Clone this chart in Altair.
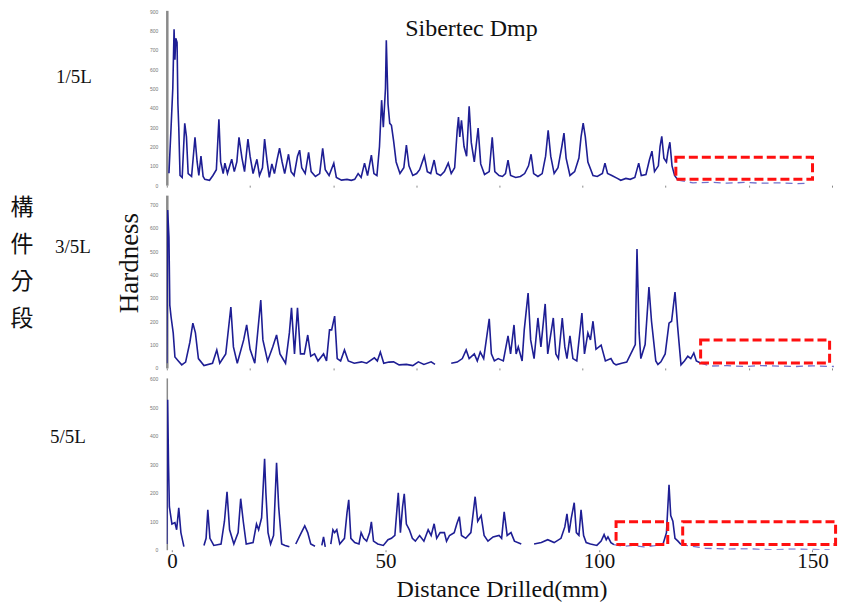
import altair as alt
import pandas as pd

# ---------------- data (mm, hardness) ----------------
TOP_SEGMENTS = [[
    (-0.7, 62), (-0.2, 300), (0.2, 500), (0.5, 807), (0.7, 650), (0.9, 760), (1.2, 739),
    (1.4, 420), (1.6, 300), (1.9, 50), (2.4, 40), (3.0, 320), (3.4, 250), (3.8, 60),
    (4.6, 45), (5.4, 248), (5.9, 120), (6.3, 50), (6.8, 150), (7.3, 45), (7.7, 30),
    (8.8, 25), (9.6, 50), (10.4, 80), (11.0, 341), (11.4, 120), (12.0, 60), (12.4, 114),
    (13.0, 60), (14.0, 134), (14.6, 70), (15.2, 120), (15.7, 248), (16.4, 140), (17.0, 70),
    (17.8, 238), (18.3, 150), (19.0, 60), (19.9, 134), (20.5, 50), (21.2, 90), (21.7, 238),
    (22.3, 120), (22.8, 40), (23.4, 110), (24.0, 60), (24.6, 130), (25.2, 191), (25.8, 120),
    (26.4, 60), (27.3, 160), (27.9, 70), (28.6, 50), (29.4, 150), (29.9, 181), (30.4, 90),
    (31.2, 60), (32.0, 170), (32.6, 70), (33.6, 45), (34.6, 60), (35.3, 191), (35.9, 80),
    (36.8, 50), (37.9, 114), (38.5, 40), (39.7, 26), (41.0, 30), (42.0, 25), (42.8, 30),
    (43.6, 60), (44.3, 40), (45.1, 114), (45.8, 50), (46.7, 155), (47.3, 60), (48.0, 50),
    (48.6, 200), (49.1, 440), (49.5, 300), (50.0, 500), (50.2, 750), (50.6, 420), (51.0, 320),
    (51.4, 310), (51.9, 230), (52.5, 120), (53.4, 60), (54.3, 90), (54.9, 207), (55.5, 100),
    (56.4, 50), (57.3, 60), (58.0, 80), (59.1, 150), (59.8, 70), (60.6, 60), (61.4, 130),
    (62.0, 60), (62.9, 50), (63.8, 70), (64.7, 114), (65.4, 60), (66.2, 90), (66.8, 284),
    (67.1, 352), (67.4, 250), (67.8, 336), (68.4, 200), (69.0, 150), (69.6, 408), (70.1, 220),
    (70.8, 120), (71.7, 295), (72.3, 110), (73.2, 55), (74.3, 70), (75.0, 248), (75.6, 70),
    (76.6, 50), (77.4, 45), (78.1, 60), (78.7, 129), (79.3, 50), (80.5, 40), (81.6, 45),
    (82.6, 60), (83.5, 100), (84.1, 160), (84.7, 60), (85.7, 45), (86.7, 60), (87.5, 150),
    (88.1, 284), (88.7, 150), (89.5, 60), (90.4, 90), (91.3, 200), (91.8, 269), (92.3, 140),
    (93.2, 50), (94.3, 70), (95.3, 140), (95.8, 250), (96.3, 321), (96.8, 250), (97.4, 120),
    (98.6, 50), (99.6, 45), (100.8, 60), (101.4, 114), (102.0, 60), (103.0, 50), (104.3, 35),
    (105.1, 25), (106.3, 35), (107.3, 30), (108.4, 40), (109.3, 114), (109.9, 50), (111.0, 55),
    (111.8, 130), (112.4, 176), (113.0, 70), (113.9, 100), (114.3, 200), (114.7, 253),
    (115.2, 140), (115.8, 120), (116.2, 180), (116.6, 222), (117.1, 100), (117.7, 50), (118.5, 26),
]]
TOP_FAINT = [[(118.5, 26), (122.0, 12), (126.0, 15), (130.0, 10), (134.0, 14), (138.0, 10),
              (142.0, 12), (146.0, 8), (148.8, 10)]]

MID_SEGMENTS = [[
    (-1.2, 20), (-1.0, 676), (-0.7, 560), (-0.5, 269), (-0.2, 218), (0.3, 150), (0.7, 47),
    (1.5, 30), (2.3, 13), (3.2, 25), (4.2, 110), (4.9, 192), (5.5, 150), (6.2, 40), (7.5, 10),
    (9.5, 20), (10.5, 77), (11.2, 20), (12.6, 60), (13.8, 261), (14.4, 90), (15.3, 20),
    (16.8, 120), (17.5, 184), (18.3, 80), (19.4, 20), (20.8, 291), (21.3, 120), (22.4, 30),
    (23.6, 90), (24.5, 141), (25.3, 60), (26.6, 20), (27.5, 150), (28.0, 257), (28.7, 60),
    (29.4, 257), (30.1, 60), (31.0, 60), (31.8, 141), (32.5, 50), (33.4, 60), (34.2, 30),
    (35.5, 60), (36.2, 30), (36.9, 163), (37.4, 163), (38.1, 222), (38.7, 40), (39.5, 30),
    (40.4, 77), (41.3, 30), (42.7, 20), (44.4, 26), (45.6, 20), (47.4, 43), (48.1, 30),
    (48.8, 68), (49.6, 20), (50.8, 25), (51.9, 26), (53.2, 13), (54.9, 15), (56.4, 10),
    (57.7, 26), (59.0, 15), (60.7, 26), (61.6, 15),
], [
    (65.4, 20), (66.8, 25), (68.0, 40), (68.9, 77), (69.6, 40), (70.8, 60), (71.5, 30),
    (72.2, 68), (73.0, 40), (74.3, 210), (74.8, 60), (75.5, 30), (76.4, 40), (77.6, 30),
    (78.7, 137), (79.3, 60), (80.1, 184), (80.6, 60), (81.1, 90), (82.0, 30), (82.5, 163),
    (83.4, 321), (84.0, 120), (84.8, 40), (85.7, 214), (86.4, 90), (87.4, 274), (88.0, 60),
    (89.3, 214), (89.9, 60), (90.5, 40), (91.4, 214), (92.0, 90), (92.5, 40), (93.2, 137),
    (93.9, 40), (94.8, 30), (96.0, 235), (96.6, 60), (97.4, 150), (98.0, 120), (98.6, 200),
    (99.3, 80), (100.5, 98), (101.5, 30), (102.8, 40), (103.4, 20), (104.0, 13), (105.3, 20),
    (106.5, 25), (107.9, 77), (108.5, 100), (108.9, 509), (109.4, 150), (109.8, 40),
    (110.8, 100), (111.7, 346), (112.3, 200), (113.3, 30), (113.8, 15), (114.5, 26),
    (115.5, 60), (116.4, 192), (117.0, 200), (117.8, 325), (118.4, 180), (119.2, 13),
    (120.0, 30), (120.8, 50), (121.5, 40), (122.2, 64), (122.8, 30), (123.8, 21),
]]
MID_FAINT = [[(123.8, 21), (126.0, 8), (130.0, 10), (134.0, 6), (138.0, 10), (142.0, 8),
              (146.0, 6), (150.0, 9), (155.0, 6)]]

BOT_SEGMENTS = [
    [(-1.2, 20), (-1.0, 526), (-0.8, 300), (-0.6, 151), (0.0, 90), (0.7, 95), (1.1, 70),
     (1.6, 147), (2.1, 60), (2.8, 11)],
    [(7.5, 15), (8.0, 40), (8.4, 140), (8.9, 40), (9.8, 15), (11.5, 20), (12.3, 100),
     (12.9, 203), (13.5, 70), (14.5, 20), (15.5, 60), (16.1, 179), (16.7, 100), (17.4, 20),
     (19.0, 25), (19.8, 90), (20.3, 70), (21.0, 112), (21.7, 319), (22.0, 200), (22.5, 60),
     (23.1, 20), (23.8, 50), (24.5, 305), (25.0, 150), (25.7, 20), (26.5, 15), (27.5, 10)],
    [(29.0, 20), (30.3, 60), (31.1, 84), (31.8, 60), (32.5, 20), (33.5, 12)],
    [(35.1, 15), (35.5, 45), (35.9, 10)],
    [(37.2, 20), (37.7, 70), (38.1, 60), (38.6, 70), (39.3, 20), (40.4, 40), (41.0, 130),
     (41.4, 175), (41.9, 40), (42.8, 25), (43.8, 20), (44.3, 60), (44.9, 40), (45.6, 30),
     (46.3, 60), (46.7, 98), (47.2, 30), (48.2, 20), (49.5, 15), (50.6, 35), (51.4, 40),
     (52.2, 50), (53.0, 200), (53.5, 60), (54.0, 150), (54.4, 196), (54.9, 90), (55.6, 70),
     (56.3, 40), (57.0, 30), (58.0, 50), (59.0, 30), (60.0, 70), (60.7, 50), (61.4, 91),
     (62.0, 40), (62.8, 60), (63.8, 60), (64.3, 30), (65.0, 50), (66.1, 60), (66.7, 90),
     (67.3, 116), (67.8, 50), (68.8, 40), (70.0, 60), (71.0, 186), (71.6, 100), (72.4, 120),
     (73.1, 50), (74.0, 30), (75.2, 45), (76.6, 50), (77.2, 40), (77.8, 133), (78.5, 50),
     (79.4, 60), (80.2, 30), (81.8, 20)],
    [(84.8, 20), (86.5, 25), (88.0, 35), (89.5, 25), (91.1, 40), (92.0, 80), (92.5, 126),
     (93.0, 60), (93.5, 110), (94.2, 165), (94.7, 60), (95.3, 50), (95.8, 140), (96.4, 50),
     (97.0, 25), (98.0, 20), (99.5, 15), (100.5, 30), (101.2, 53), (101.7, 35), (102.1, 45),
     (102.8, 25), (103.5, 18)],
    [(115.0, 20), (115.8, 60), (116.4, 228), (116.8, 120), (117.3, 100), (117.8, 40),
     (118.5, 30), (119.2, 18)],
]
BOT_FAINT = [
    [(103.5, 18), (105.5, 12), (108.0, 15), (110.5, 10), (113.0, 14), (115.0, 20)],
    [(119.2, 18), (125.0, 5), (130.0, 2), (135.0, 3), (140.0, 0), (145.0, 2), (150.0, 1), (154.0, 0)],
]

# dashed red highlight boxes: (x1, x2, y1, y2)
TOP_BOXES = [(118.0, 150.0, 31, 145)]
MID_BOXES = [(123.8, 154.0, 21, 120)]
BOT_BOXES = [(104.0, 116.1, 18, 98), (119.6, 155.4, 18, 98)]

TOP_YTICKS = [0, 100, 200, 300, 400, 500, 600, 700, 800, 900]
MID_YTICKS = [0, 100, 200, 300, 400, 500, 600, 700]
BOT_YTICKS = [0, 100, 200, 300, 400, 500, 600]
X_LABELS = [0, 50, 100, 150]
X_DOTS = [-1.2, 18.3, 37.8, 57.2, 76.7, 96.2, 115.6, 135.1, 154.5]

SEGMENT_LABELS = ["1/5L", "3/5L", "5/5L"]
SIDE_TEXT = "構\n件\n分\n段"
TITLE = "Sibertec Dmp"
Y_TITLE = "Hardness"
X_TITLE = "Distance Drilled(mm)"

NAVY = "#1e1e94"
FAINT = "#7070cc"
SERIF = "Liberation Serif"
W = 670


def frame(segments):
    rows = []
    for s, seg in enumerate(segments):
        for i, (x, y) in enumerate(seg):
            rows.append({"mm": x, "val": y, "seg": s, "idx": i})
    return pd.DataFrame(rows)


def box_frame(boxes):
    return pd.DataFrame([{"x1": a, "x2": b, "y1": c, "y2": d} for a, b, c, d in boxes])


def panel(segs, faint, boxes, ydom, yticks, xaxis, domain_width=2.5):
    xs = alt.Scale(domain=[-1.2, 155.5], nice=False, zero=False)
    ys = alt.Scale(domain=ydom, nice=False, zero=False)
    yaxis = alt.Axis(values=yticks, labelFontSize=5, labelColor="#777", ticks=False,
                     labelOverlap=False, domainColor="#8a8a8a", domainWidth=domain_width,
                     labelPadding=9, title=None, grid=False)
    solid = alt.Chart(frame(segs)).mark_line(color=NAVY, strokeWidth=1.6, clip=True).encode(
        x=alt.X("mm:Q", scale=xs, axis=xaxis),
        y=alt.Y("val:Q", scale=ys, axis=yaxis),
        detail="seg:N",
        order="idx:Q",
    )
    light = alt.Chart(frame(faint)).mark_line(color=FAINT, strokeWidth=1.3, strokeDash=[7, 5],
                                              clip=True).encode(
        x=alt.X("mm:Q", scale=xs, axis=xaxis),
        y=alt.Y("val:Q", scale=ys, axis=yaxis),
        detail="seg:N",
        order="idx:Q",
    )
    rects = alt.Chart(box_frame(boxes)).mark_rect(
        fillOpacity=0, stroke="#ff1010", strokeWidth=3, strokeDash=[9, 4]
    ).encode(x=alt.X("x1:Q", scale=xs, axis=xaxis), x2="x2:Q",
             y=alt.Y("y1:Q", scale=ys, axis=yaxis), y2="y2:Q")
    return [solid, light, rects]


dot_axis = alt.Axis(values=X_DOTS, labels=False, domain=False, tickSize=2, tickColor="#888",
                    title=None, grid=False)
bottom_axis = alt.Axis(values=X_LABELS, labelFontSize=21, labelFont=SERIF, labelColor="#111",
                       labelFlush=False, domain=False, tickSize=2, tickColor="#888",
                       labelPadding=-1, title=X_TITLE, titleFont=SERIF, titleFontSize=24,
                       titleFontWeight="normal", titleColor="#111", titlePadding=6, grid=False)


def text(t, x, y, size, **kw):
    return alt.Chart(pd.DataFrame({"t": [t]})).mark_text(
        font=kw.pop("font", SERIF), fontSize=size, color="#111", **kw
    ).encode(x=alt.value(x), y=alt.value(y), text="t:N")


top = alt.layer(
    *panel(TOP_SEGMENTS, TOP_FAINT, TOP_BOXES, [0, 905], TOP_YTICKS, dot_axis),
    text(TITLE, 305, 19, 24, align="center", baseline="middle"),
    text(SEGMENT_LABELS[0], -93, 67, 19, align="center", baseline="middle"),
).properties(width=W, height=175)

mid = alt.layer(
    *panel(MID_SEGMENTS, MID_FAINT, MID_BOXES, [0, 740], MID_YTICKS, dot_axis),
    text(SEGMENT_LABELS[1], -94, 52, 19, align="center", baseline="middle"),
    text(Y_TITLE, -37, 68, 27, align="center", baseline="middle", angle=270),
    text(SIDE_TEXT, -145, 2, 23, align="center", baseline="top", lineBreak="\n",
         lineHeight=37, font="Noto Sans CJK TC"),
).properties(width=W, height=173)

bot = alt.layer(
    *panel(BOT_SEGMENTS, BOT_FAINT, BOT_BOXES, [0, 603], BOT_YTICKS, bottom_axis,
           domain_width=1.5),
    text(SEGMENT_LABELS[2], -99, 59, 19, align="center", baseline="middle"),
).properties(width=W, height=172)

chart = alt.vconcat(top, mid, bot, spacing=10, bounds="flush").properties(
    padding={"left": 2, "top": 0, "right": 0, "bottom": 0}
).configure_view(strokeWidth=0).configure_axis(grid=False)

chart.save("out.html", embed_options={"renderer": "svg", "actions": False})
